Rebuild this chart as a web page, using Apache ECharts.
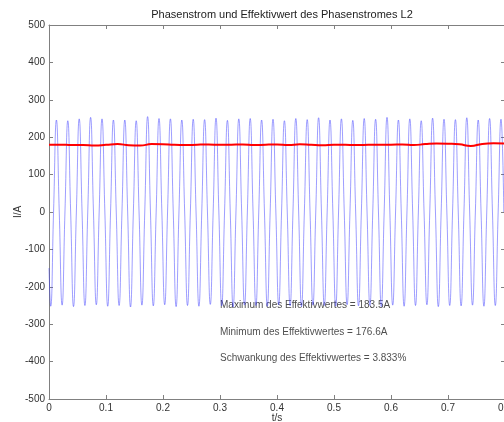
<!DOCTYPE html>
<html>
<head>
<meta charset="utf-8">
<script src="https://cdn.jsdelivr.net/npm/echarts@6/dist/echarts.min.js"></script>
<style>
  html, body { margin: 0; padding: 0; background: #fff; }
  #chart { width: 504px; height: 422px; }
</style>
</head>
<body>
<div id="chart"></div>
<script>
// Phase current L2 (50 Hz): peak / trough of each cycle
const period = 0.02;
const firstTrough = 0.003;
const peakValues = [246, 244, 249, 253, 249, 246, 246, 244, 255, 250, 249, 246, 248, 247, 251, 245, 249, 250, 246, 248,
                    244, 250, 247, 252, 246, 249, 245, 250, 248, 253, 246, 249, 244, 251, 248, 247, 252, 246, 250, 248];
const troughValues = [-252, -249, -253, -250, -248, -252, -250, -254, -249, -251, -248, -253, -250, -252, -247, -251, -254, -249, -250, -252,
                      -248, -251, -253, -249, -250, -252, -248, -251, -250, -253, -249, -252, -250, -248, -253, -250, -251, -249, -252, -250];
const startValue = -150;

// RMS (Effektivwert) every 20 ms
const rmsTimes = [0, 0.02, 0.04, 0.06, 0.08, 0.10, 0.12, 0.14, 0.16, 0.18, 0.20, 0.22, 0.24, 0.26, 0.28, 0.30, 0.32, 0.34, 0.36, 0.38,
                  0.40, 0.42, 0.44, 0.46, 0.48, 0.50, 0.52, 0.54, 0.56, 0.58, 0.60, 0.62, 0.64, 0.66, 0.68, 0.70, 0.72, 0.74, 0.76, 0.78, 0.80];
const rmsValues = [180, 180, 179, 179, 178, 179.5, 181.5, 178.5, 177.5, 181.5, 181, 179.5, 179, 180, 180.5, 179.5, 180, 180.5, 179, 180,
                   180.5, 179, 181, 179.5, 178.5, 180, 179.5, 179, 179.5, 180, 180, 180.5, 179, 181.5, 183, 182.5, 181, 176.6, 182, 183.5, 183];

const noteLines = [
  'Maximum des Effektivwertes = 183.5A',
  'Minimum des Effektivwertes = 176.6A',
  'Schwankung des Effektivwertes = 3.833%'
];
const notePos = [[0.3, -250], [0.3, -322], [0.3, -392]];

const currentData = [[0, startValue]];
for (let k = 0; k < peakValues.length; k++) {
  const t0 = firstTrough + k * period;
  currentData.push([t0, troughValues[k]]);
  currentData.push([t0 + period / 4, 0]);
  currentData.push([t0 + period / 2, peakValues[k]]);
  currentData.push([t0 + 3 * period / 4, 0]);
}
const rmsData = rmsTimes.map((t, i) => [t, rmsValues[i]]);

const axisColor = '#808080';
const textColor = '#333';
const font = 'Liberation Sans, Arial, sans-serif';

const boxAxis = {
  axisLine: { onZero: false, lineStyle: { color: axisColor } },
  axisTick: { inside: true, length: 4, lineStyle: { color: axisColor } },
  splitLine: { show: false }
};

const chart = echarts.init(document.getElementById('chart'), null, { renderer: 'canvas' });
chart.setOption({
  animation: false,
  title: {
    text: 'Phasenstrom und Effektivwert des Phasenstromes L2',
    left: 277, top: 4, textAlign: 'center',
    textStyle: { fontSize: 11, fontWeight: 'normal', color: '#222', fontFamily: font }
  },
  grid: { left: 49, top: 25, right: -1, bottom: 23, outerBoundsMode: 'none', containLabel: false },
  xAxis: [
    Object.assign({
      type: 'value', min: 0, max: 0.8, interval: 0.1,
      name: 't/s', nameLocation: 'middle', nameGap: 14, nameMoveOverlap: false,
      nameTextStyle: { fontSize: 10, color: textColor, fontFamily: font },
      axisLabel: { fontSize: 10, color: textColor, margin: 4, fontFamily: font, formatter: v => String(+v.toFixed(1)) }
    }, boxAxis),
    Object.assign({
      type: 'value', min: 0, max: 0.8, interval: 0.1, position: 'top',
      axisLabel: { show: false }
    }, boxAxis)
  ],
  yAxis: [
    Object.assign({
      type: 'value', min: -500, max: 500, interval: 100,
      name: 'I/A', nameLocation: 'middle', nameGap: 26, nameRotate: 90, nameMoveOverlap: false,
      nameTextStyle: { fontSize: 10, color: textColor, fontFamily: font },
      axisLabel: { fontSize: 10, color: textColor, margin: 4, fontFamily: font }
    }, boxAxis),
    Object.assign({
      type: 'value', min: -500, max: 500, interval: 100, position: 'right',
      axisLabel: { show: false }
    }, boxAxis)
  ],
  series: [
    {
      name: 'Phasenstrom', type: 'line', data: currentData,
      smooth: 0.5, symbol: 'none', silent: true,
      lineStyle: { color: '#3a3aff', width: 0.7, opacity: 0.7 }
    },
    {
      name: 'Effektivwert', type: 'line', data: rmsData,
      smooth: true, symbol: 'none', silent: true,
      lineStyle: { color: '#ff0000', width: 2 }
    },
    {
      name: 'notes', type: 'scatter', symbolSize: 0, silent: true,
      data: notePos,
      label: {
        show: true, position: 'right', distance: 0,
        formatter: p => noteLines[p.dataIndex],
        fontSize: 10, color: '#222', fontFamily: font
      }
    }
  ]
});
</script>
</body>
</html>
